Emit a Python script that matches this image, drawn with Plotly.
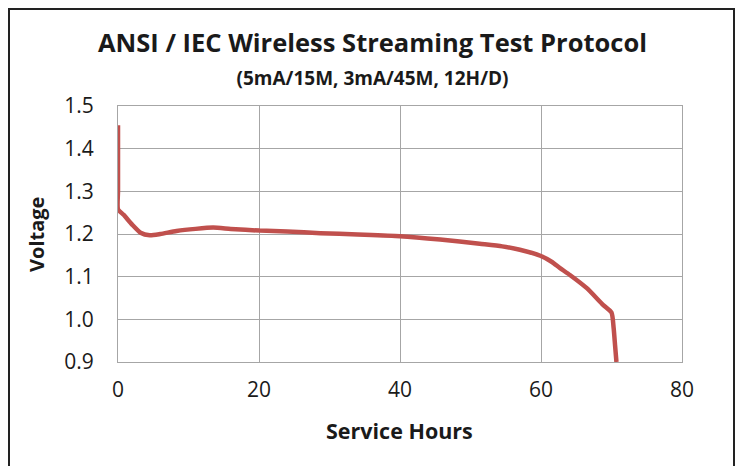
import plotly.graph_objects as go

hours = [0.0, 0.0, 0.0, 0.8, 2.0, 3.2, 4.5, 6.0, 8.3, 11.0, 13.5, 16.0, 20.1, 24.0, 28.7,
         34.0, 40.0, 45.7, 51.3, 54.5, 57.0, 59.9, 61.5, 62.7, 64.1, 66.5, 68.8, 70.0,
         70.3, 70.5, 70.7]
voltage = [1.455, 1.30, 1.258, 1.245, 1.222, 1.203, 1.197, 1.200, 1.207, 1.212, 1.215, 1.212, 1.208,
           1.206, 1.202, 1.199, 1.195, 1.187, 1.177, 1.171, 1.163, 1.149, 1.135, 1.12, 1.104,
           1.073, 1.034, 1.016, 0.98, 0.94, 0.90]

x_ticks = [0, 20, 40, 60, 80]
y_ticks = [0.9, 1.0, 1.1, 1.2, 1.3, 1.4, 1.5]
y_tick_text = ["0.9", "1.0", "1.1", "1.2", "1.3", "1.4", "1.5"]

title_text = "ANSI / IEC Wireless Streaming Test Protocol"
subtitle_text = "(5mA/15M, 3mA/45M, 12H/D)"
x_title = "Service Hours"
y_title = "Voltage"

FONT = "Open Sans"
TXT = "#1a1a1a"

# the page body has an 8px margin; figure coords are page coords - 8
W, H = 735, 458
L, T = 110, 98
PW, PH = 564, 256
R = W - L - PW
B = H - T - PH


def px(fx):
    return (fx - L) / PW


def py(fy):
    return (T + PH - fy) / PH


fig = go.Figure()
fig.add_trace(go.Scatter(
    x=hours, y=voltage, mode="lines",
    line=dict(color="#C0504D", width=4.5, shape="spline", smoothing=0.6),
    showlegend=False, hoverinfo="skip",
))

fig.update_layout(
    width=W, height=H,
    margin=dict(l=L, r=R, t=T, b=B),
    paper_bgcolor="white", plot_bgcolor="white",
    font=dict(family=FONT, color=TXT),
    xaxis=dict(
        range=[0, 80], tickvals=x_ticks, showgrid=True, gridcolor="#A6A6A6", gridwidth=1,
        showline=True, linecolor="#A6A6A6", linewidth=1, mirror=True, zeroline=False,
        ticks="", tickfont=dict(size=21, color=TXT), ticklabelstandoff=9,
    ),
    yaxis=dict(
        range=[0.9, 1.5], tickvals=y_ticks, ticktext=y_tick_text, showgrid=True,
        gridcolor="#A6A6A6", gridwidth=1, showline=True, linecolor="#A6A6A6", linewidth=1,
        mirror=True, zeroline=False, ticks="", tickfont=dict(size=21, color=TXT),
        ticklabelstandoff=19,
    ),
)

header = ("<b>" + title_text + "</b><br>"
          "<span style='font-size:19px'><b>" + subtitle_text + "</b></span>")

annotations = [
    dict(text=header, x=px(364.5), y=py(50), size=25.5),
    dict(text="<b>" + x_title + "</b>", x=px(391.5), y=py(422), size=21.5),
    dict(text="<b>" + y_title + "</b>", x=px(28), y=py(227), size=20, textangle=-90),
]
for a in annotations:
    fig.add_annotation(xref="paper", yref="paper", showarrow=False,
                       xanchor="center", yanchor="middle",
                       font=dict(family=FONT, color=TXT, size=a["size"]),
                       text=a["text"], x=a["x"], y=a["y"], textangle=a.get("textangle", 0))

fig.add_shape(type="rect", xref="paper", yref="paper",
              x0=px(1), x1=px(726), y0=py(480), y1=py(1),
              line=dict(color="#222222", width=2), fillcolor="rgba(0,0,0,0)", layer="below")

fig.write_html("out.html")
